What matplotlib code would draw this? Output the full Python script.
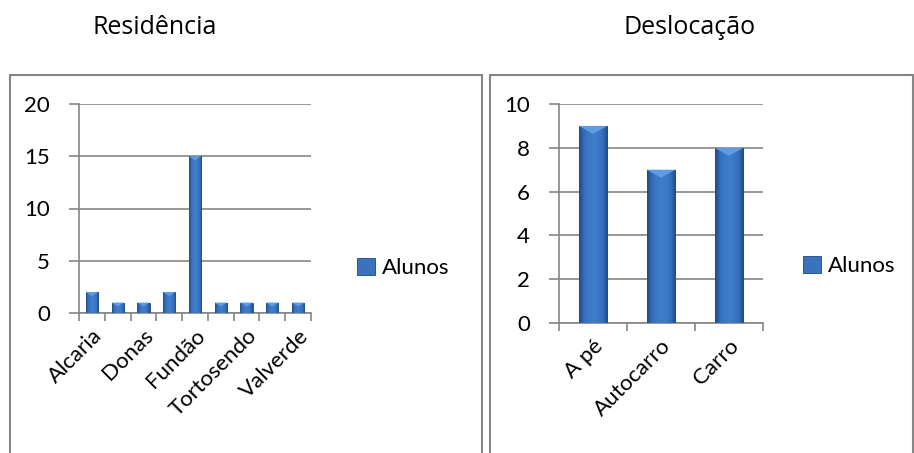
import numpy as np
import matplotlib.pyplot as plt
from matplotlib.patches import Rectangle, Polygon
from matplotlib.colors import LinearSegmentedColormap

# data
res_labels = ["Alcaria", "", "Donas", "", "Fundão", "", "Tortosendo", "", "Valverde"]
res_values = [2, 1, 1, 2, 15, 1, 1, 1, 1]
des_labels = ["A pé", "Autocarro", "Carro"]
des_values = [9, 7, 8]
series_name = "Alunos"

W, H = 914, 453
GRAY = "#868686"
grad_cmap = LinearSegmentedColormap.from_list(
    "bar", ["#1f4c88", "#356dba", "#3c78c6", "#3f7cca", "#3c78c6", "#356dba", "#1f4c88"])
TICK_FONT = ["Lato", "DejaVu Sans"]
FS = 16


def px_axes(fig, x0, y0, x1, y1):
    return fig.add_axes([x0 / W, 1 - y1 / H, (x1 - x0) / W, (y1 - y0) / H])


def gradient_bars(ax, values, width, ymax, ax_h_px, bevel_px):
    x = np.arange(len(values))
    bars = ax.bar(x, values, width=width, color="#3a72bd", edgecolor="#1d4680",
                  linewidth=0.6, zorder=3, label=series_name)
    grad = np.linspace(0, 1, 64).reshape(1, -1)
    depth = bevel_px * ymax / ax_h_px  # bevel depth in data units
    for b in bars:
        x0, x1, h = b.get_x(), b.get_x() + b.get_width(), b.get_height()
        im = ax.imshow(grad, cmap=grad_cmap, aspect="auto", zorder=3.5,
                       extent=[x0, x1, 0, h])
        im.set_clip_path(b)
        ax.add_patch(Polygon([(x0, h), (x1, h), ((x0 + x1) / 2, h - depth)],
                             closed=True, facecolor="#5f9de2", edgecolor="none",
                             zorder=4))
    return bars


def style_axes(ax, labels, ymax, ystep):
    ax.set_xlim(-0.5, len(labels) - 0.5)
    ax.set_ylim(0, ymax)
    ax.set_yticks(np.arange(0, ymax + 0.1, ystep))
    ax.yaxis.grid(True, color=GRAY, linewidth=1.2, zorder=0)
    ax.set_axisbelow(True)
    for s in ["top", "right"]:
        ax.spines[s].set_visible(False)
    for s in ["left", "bottom"]:
        ax.spines[s].set_color(GRAY)
        ax.spines[s].set_linewidth(1.2)
    ax.tick_params(axis="y", length=7, color=GRAY, width=1.2, labelsize=FS, pad=14)
    ax.tick_params(axis="x", which="major", length=0, labelsize=FS, pad=9)
    ax.set_xticks(np.arange(len(labels)))
    ax.set_xticklabels(labels, rotation=45, ha="right", rotation_mode="anchor",
                       family=TICK_FONT)
    ax.set_xticks(np.arange(len(labels) + 1) - 0.5, minor=True)
    ax.tick_params(axis="x", which="minor", length=6, color=GRAY, width=1.2)
    for t in ax.get_yticklabels():
        t.set_family(TICK_FONT)


fig = plt.figure(figsize=(W / 100, H / 100), dpi=100)

# frames around the two charts
for x0, x1 in [(10, 482), (490, 913)]:
    fig.patches.append(Rectangle((x0 / W, -0.05), (x1 - x0) / W, 1.05 - 75 / H,
                                 transform=fig.transFigure, fill=False,
                                 edgecolor=GRAY, linewidth=1.5))

fig.text(155 / W, 1 - 27 / H, "Residência", ha="center", va="center",
         fontsize=18, family=["Open Sans", "DejaVu Sans"])
fig.text(690 / W, 1 - 27 / H, "Deslocação", ha="center", va="center",
         fontsize=18, family=["Open Sans", "DejaVu Sans"])

ax1 = px_axes(fig, 79, 104, 311, 313)
b1 = gradient_bars(ax1, res_values, 0.47, 20, 209, 4)
style_axes(ax1, res_labels, 20, 5)
fig.legend(handles=[b1], loc="center left", bbox_to_anchor=(337 / W, 1 - 268 / H),
           frameon=False, handlelength=0.8, handleheight=0.8,
           handletextpad=0.3, prop={"family": TICK_FONT, "size": FS})

ax2 = px_axes(fig, 559, 104, 763, 323)
b2 = gradient_bars(ax2, des_values, 0.42, 10, 219, 8)
style_axes(ax2, des_labels, 10, 2)
fig.legend(handles=[b2], loc="center left", bbox_to_anchor=(783 / W, 1 - 266 / H),
           frameon=False, handlelength=0.8, handleheight=0.8,
           handletextpad=0.3, prop={"family": TICK_FONT, "size": FS})

fig.savefig("out.png", dpi=100)
